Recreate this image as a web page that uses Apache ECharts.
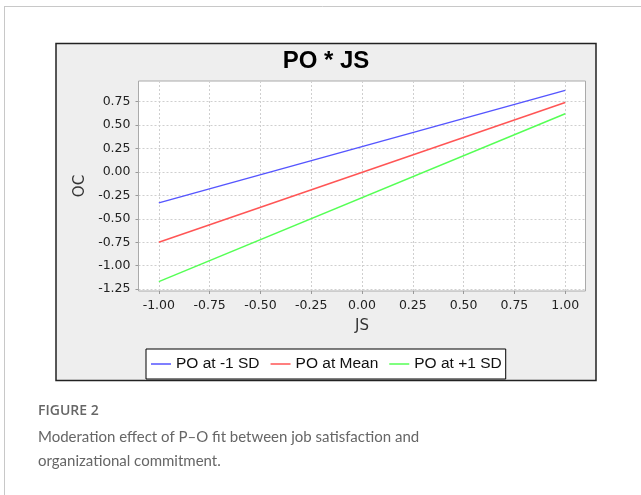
<!DOCTYPE html>
<html>
<head>
<meta charset="utf-8">
<title>PO * JS</title>
<script src="https://cdn.jsdelivr.net/npm/echarts@6/dist/echarts.min.js"></script>
<style>
  html, body { margin: 0; padding: 0; background: #fff; }
  #chart { width: 641px; height: 495px; }
</style>
</head>
<body>
<div id="chart"></div>
<script>
// values
const seriesNames = ['PO at -1 SD', 'PO at Mean', 'PO at +1 SD']
const jsValues = [-1, 1]
const poLow = [-0.33, 0.87]
const poMean = [-0.75, 0.74]
const poHigh = [-1.17, 0.62]
const xTicks = [-1, -0.75, -0.5, -0.25, 0, 0.25, 0.5, 0.75, 1]
const yTicks = [-1.25, -1, -0.75, -0.5, -0.25, 0, 0.25, 0.5, 0.75]

const lineColors = ['#5555ff', '#ff5555', '#55ff55']
const seriesValues = [poLow, poMean, poHigh]

const chart = echarts.init(document.getElementById('chart'))

const toPairs = (ys) => jsValues.map((x, i) => [x, ys[i]])
const fmt = (v) => v.toFixed(2)

const tickFont = { fontFamily: 'DejaVu Sans', fontSize: 12.5, color: '#222' }
const gridLine = { show: true, lineStyle: { color: '#cfcfcf', type: [2, 2], width: 1 } }

const option = {
    backgroundColor: '#fff',
    animation: false,
    title: {
        text: 'PO * JS',
        left: 326,
        top: 49,
        padding: 0,
        textAlign: 'center',
        textStyle: {
            fontFamily: 'Liberation Sans',
            fontSize: 24,
            fontWeight: 'bold',
            color: '#000'
        }
    },
    legend: {
        data: seriesNames,
        left: 146,
        top: 349,
        padding: [7, 4, 7, 5],
        backgroundColor: '#fff',
        borderColor: '#000',
        borderWidth: 1,
        itemWidth: 20,
        itemHeight: 1.5,
        itemGap: 11,
        icon: 'rect',
        textStyle: {
            fontFamily: 'Liberation Sans',
            fontSize: 15.5,
            lineHeight: 16,
            color: '#111'
        }
    },
    grid: {
        left: 138.5,
        right: 55.5,
        top: 81,
        bottom: 204,
        show: true,
        backgroundColor: '#fff',
        borderColor: '#aaa',
        borderWidth: 1,
        containLabel: false
    },
    xAxis: {
        type: 'value',
        min: -1.1,
        max: 1.1,
        name: 'JS',
        nameLocation: 'middle',
        nameGap: 28,
        nameTextStyle: { fontFamily: 'DejaVu Sans', fontSize: 15, color: '#333' },
        axisLine: { show: false, onZero: false },
        axisTick: { show: true, length: 3, lineStyle: { color: '#999' }, customValues: xTicks },
        axisLabel: Object.assign({ margin: 8, formatter: fmt, customValues: xTicks }, tickFont),
        splitLine: gridLine
    },
    yAxis: {
        type: 'value',
        min: -1.27,
        max: 0.97,
        name: 'OC',
        nameLocation: 'middle',
        nameGap: 47,
        nameTextStyle: { fontFamily: 'DejaVu Sans', fontSize: 15, color: '#333' },
        axisLine: { show: false, onZero: false },
        axisTick: { show: true, length: 3, lineStyle: { color: '#999' }, customValues: yTicks },
        axisLabel: Object.assign({ margin: 8, formatter: fmt, customValues: yTicks }, tickFont),
        splitLine: gridLine
    },
    series: seriesNames.map((name, i) => ({
        name: name,
        type: 'line',
        data: toPairs(seriesValues[i]),
        symbol: 'none',
        lineStyle: { width: 1.5, color: lineColors[i] },
        itemStyle: { color: lineColors[i] }
    })),
    graphic: [
        // page card border
        { type: 'line', shape: { x1: 4, y1: 6.5, x2: 641, y2: 6.5 }, style: { stroke: '#c8c8c8', lineWidth: 1 }, z: -10 },
        { type: 'line', shape: { x1: 4.5, y1: 6, x2: 4.5, y2: 495 }, style: { stroke: '#c8c8c8', lineWidth: 1 }, z: -10 },
        // chart frame
        {
            type: 'rect',
            shape: { x: 56, y: 43.5, width: 540, height: 337 },
            style: { fill: '#eeeeee', stroke: '#222', lineWidth: 1.5 },
            z: -10
        },
        // caption
        {
            type: 'text',
            left: 38,
            top: 404,
            style: { text: 'FIGURE 2', font: '600 14px "Open Sans"', fill: '#666' }
        },
        {
            type: 'text',
            left: 38,
            top: 425,
            style: {
                text: 'Moderation effect of P–O fit between job satisfaction and\norganizational commitment.',
                font: '15px Lato',
                lineHeight: 24,
                fill: '#666'
            }
        }
    ]
}

chart.setOption(option)
window.addEventListener('resize', () => chart.resize())
</script>
</body>
</html>
